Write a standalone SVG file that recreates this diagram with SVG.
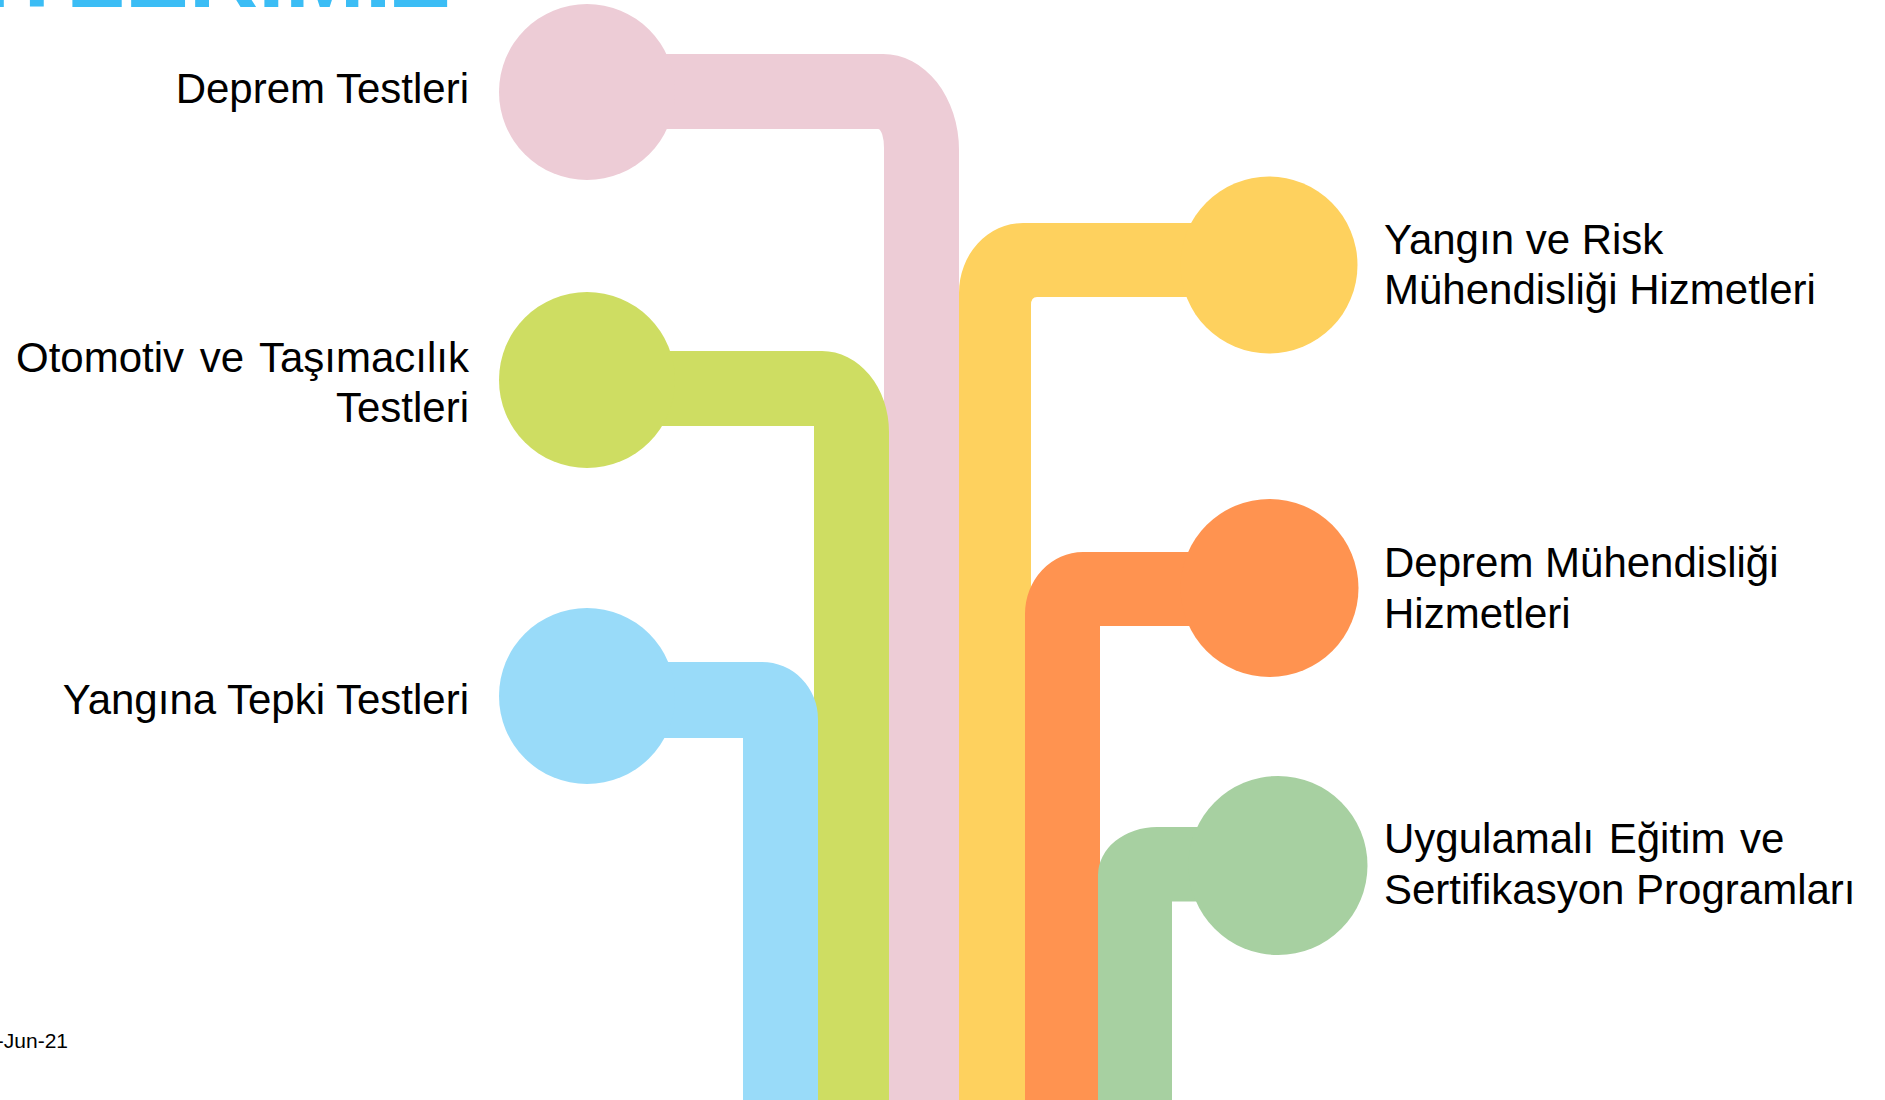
<svg xmlns="http://www.w3.org/2000/svg" width="1885" height="1100" viewBox="0 0 1885 1100">
<style>
.lbl{font-family:"Liberation Sans",Arial,sans-serif;font-size:42px;fill:#000}
.title{font-family:"Liberation Sans",Arial,sans-serif;font-size:96px;font-weight:bold;fill:#3BBDF5}
.date{font-family:"Liberation Sans",Arial,sans-serif;font-size:21px;fill:#000}
.pink{fill:#EDCCD6}.lime{fill:#CEDD62}.blue{fill:#99DBF9}.yellow{fill:#FED15E}.orange{fill:#FF9350}.green{fill:#A7D0A1}
</style>
<rect width="1885" height="1100" fill="#fff"/>
<text class="title" x="450" y="7" text-anchor="end">HİZMETLERİMİZ</text>
<text class="date" x="68" y="1048" text-anchor="end">-Jun-21</text>
<g id="connectors">
<path class="pink" d="M587 54 H883 A76 96 0 0 1 959 150 V1100 H884 V148 A6 19 0 0 0 878 129 H587 Z"/>
<path class="lime" d="M587 351 H822 A67 81 0 0 1 889 432 V1100 H814 V426 H587 Z"/>
<path class="blue" d="M587 662 H762 A56 57 0 0 1 818 719 V1100 H743 V738 H587 Z"/>
<path class="yellow" d="M1269 223 H1023 A64 70 0 0 0 959 293 V1100 H1031 V305 Q1031 297 1037 297 H1269 Z"/>
<path class="orange" d="M1269 552 H1083 A58 62 0 0 0 1025 614 V1100 H1100 V626 H1269 Z"/>
<path class="green" d="M1278 827 H1157 A59 48 0 0 0 1098 875 V1100 H1172 V901.5 H1278 Z"/>
</g>
<g id="node-deprem-testleri">
<circle class="pink" cx="587" cy="92" r="88"/>
<text class="lbl" x="469" y="103" text-anchor="end">Deprem Testleri</text>
</g>
<g id="node-otomotiv">
<circle class="lime" cx="587" cy="380" r="88"/>
<text class="lbl" x="469" y="372" text-anchor="end" word-spacing="4">Otomotiv ve Taşımacılık</text>
<text class="lbl" x="469" y="422" text-anchor="end">Testleri</text>
</g>
<g id="node-yangina-tepki">
<circle class="blue" cx="587" cy="696" r="88"/>
<text class="lbl" x="469" y="714" text-anchor="end">Yangına Tepki Testleri</text>
</g>
<g id="node-yangin-risk">
<circle class="yellow" cx="1269" cy="265" r="88.5"/>
<text class="lbl" x="1384" y="254">Yangın ve Risk</text>
<text class="lbl" x="1384" y="304">Mühendisliği Hizmetleri</text>
</g>
<g id="node-deprem-muh">
<circle class="orange" cx="1269.5" cy="588" r="89"/>
<text class="lbl" x="1384" y="577">Deprem Mühendisliği</text>
<text class="lbl" x="1384" y="628">Hizmetleri</text>
</g>
<g id="node-egitim">
<circle class="green" cx="1278" cy="865.5" r="89.5"/>
<text class="lbl" x="1384" y="853" word-spacing="3">Uygulamalı Eğitim ve</text>
<text class="lbl" x="1384" y="904">Sertifikasyon Programları</text>
</g>
</svg>
